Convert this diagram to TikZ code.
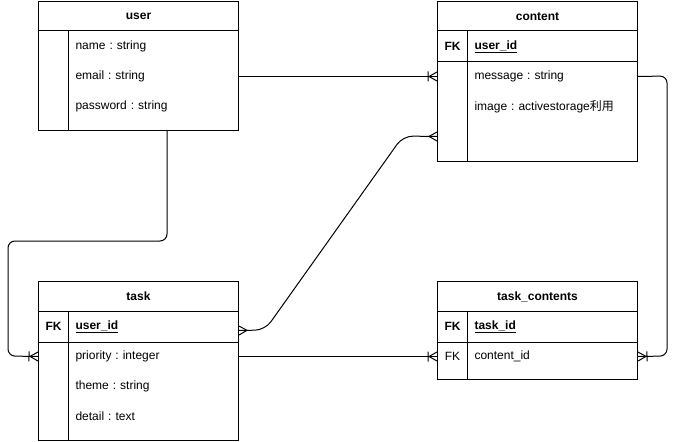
\documentclass[tikz,border=0pt]{standalone}
\usepackage{fontspec}
\setmainfont{Liberation Sans}
\newfontfamily\cjk{Noto Sans CJK JP}
\usetikzlibrary{arrows.meta,calc}
\frenchspacing

% crow's foot (many)
\pgfdeclarearrow{
  name = CrowMany,
  setup code = {
    \pgfarrowssettipend{0pt}
    \pgfarrowssetlineend{0pt}
    \pgfarrowssetbackend{-8pt}
    \pgfarrowshullpoint{0pt}{5pt}
    \pgfarrowshullpoint{0pt}{-5pt}
    \pgfarrowshullpoint{-8pt}{0pt}
  },
  drawing code = {
    \pgfsetdash{}{0pt}
    \pgfpathmoveto{\pgfqpoint{0pt}{4.5pt}}
    \pgfpathlineto{\pgfqpoint{-8pt}{0pt}}
    \pgfpathlineto{\pgfqpoint{0pt}{-4.5pt}}
    \pgfusepathqstroke
  }
}
% crow's foot with a bar (one or many)
\pgfdeclarearrow{
  name = CrowOneMany,
  setup code = {
    \pgfarrowssettipend{0pt}
    \pgfarrowssetlineend{0pt}
    \pgfarrowssetbackend{-9pt}
    \pgfarrowshullpoint{0pt}{5pt}
    \pgfarrowshullpoint{0pt}{-5pt}
    \pgfarrowshullpoint{-9pt}{5pt}
    \pgfarrowshullpoint{-9pt}{-5pt}
  },
  drawing code = {
    \pgfsetdash{}{0pt}
    \pgfpathmoveto{\pgfqpoint{0pt}{4.5pt}}
    \pgfpathlineto{\pgfqpoint{-8pt}{0pt}}
    \pgfpathlineto{\pgfqpoint{0pt}{-4.5pt}}
    \pgfpathmoveto{\pgfqpoint{-9pt}{5pt}}
    \pgfpathlineto{\pgfqpoint{-9pt}{-5pt}}
    \pgfusepathqstroke
  }
}

\tikzset{
  every picture/.style={line width=1pt},
  tbl/.style={draw, anchor=north west, minimum width=200, inner sep=0pt},
  ttl/.style={anchor=north west, minimum width=200, minimum height=30, inner sep=0pt,
    font=\fontsize{12}{14}\selectfont\bfseries},
  rowbox/.style={anchor=north west, minimum height=30, inner ysep=0pt, inner xsep=37pt,
    text width=126pt, align=left, font=\fontsize{12}{14}\selectfont},
  keycell/.style={anchor=north west, minimum width=30, minimum height=30, inner sep=0pt,
    font=\fontsize{12}{14}\selectfont},
  link/.style={line width=1pt, line join=round},
}

\begin{document}
\begin{tikzpicture}[x=1pt, y=-1pt]
\useasboundingbox (0,0) rectangle (676,441);

% ---------- user ----------
\node[tbl, minimum height=129] (user) at (38,1) {};
\node[ttl] (user-title) at (38,1) {user};
\node[rowbox] (user-name) at (38,31) {name : string};
\node[rowbox] (user-email) at (38,61) {email : string};
\node[rowbox] (user-password) at (38,91) {password : string};
\draw (user.west |- user-name.north) -- (user.east |- user-name.north);
\draw (68,31) -- (68,130);

% ---------- content ----------
\node[tbl, minimum height=160] (content) at (437,1) {};
\node[ttl] (content-title) at (437,1) {content};
\node[keycell] (content-key) at (437,31) {\bfseries FK};
\node[rowbox] (content-fk) at (437,31) {\bfseries\underline{user\_id}};
\node[rowbox] (content-message) at (437,61) {message : string};
\node[rowbox] (content-image) at (437,91) {\mbox{image : activestorage{\cjk 利用}}};
\node[rowbox] (content-blank) at (437,121) {};
\draw (content.west |- content-fk.north) -- (content.east |- content-fk.north);
\draw (content.west |- content-fk.south) -- (content.east |- content-fk.south);
\draw (467,31) -- (467,161);

% ---------- task ----------
\node[tbl, minimum height=159] (task) at (38,281) {};
\node[ttl] (task-title) at (38,281) {task};
\node[keycell] (task-key) at (38,311) {\bfseries FK};
\node[rowbox] (task-fk) at (38,311) {\bfseries\underline{user\_id}};
\node[rowbox] (task-priority) at (38,341) {priority : integer};
\node[rowbox] (task-theme) at (38,371) {theme : string};
\node[rowbox] (task-detail) at (38,401) {detail : text};
\draw (task.west |- task-fk.north) -- (task.east |- task-fk.north);
\draw (task.west |- task-fk.south) -- (task.east |- task-fk.south);
\draw (68,311) -- (68,440);

% ---------- task_contents ----------
\node[tbl, minimum height=98] (tc) at (437,281) {};
\node[ttl] (tc-title) at (437,281) {task\_contents};
\node[keycell] (tc-key) at (437,311) {\bfseries FK};
\node[rowbox] (tc-fk) at (437,311) {\bfseries\underline{task\_id}};
\node[keycell] (tc-key2) at (437,341) {FK};
\node[rowbox] (tc-content) at (437,341) {content\_id};
\draw (tc.west |- tc-fk.north) -- (tc.east |- tc-fk.north);
\draw (tc.west |- tc-fk.south) -- (tc.east |- tc-fk.south);
\draw (467,311) -- (467,379);

% ---------- relations ----------
\coordinate (user-out) at (167,130);
\coordinate (task-fk-out) at ($(task-fk.east)+(0,4)$);

\draw[link, -{CrowOneMany}] (user-email.east) -- (content-message.west);
\draw[link, rounded corners=7, -{CrowOneMany}]
  (user-out) -- (167,241) -- (8,241) -- (8,356) -- (task-priority.west);
\draw[link, rounded corners=10, {CrowMany}-{CrowMany}]
  (task-fk-out) -- (265,330) -- (403,136) -- (content-blank.west);
\draw[link, -{CrowOneMany}] (task-priority.east) -- (tc-content.west);
\draw[link, rounded corners=7, -{CrowOneMany}]
  (content-message.east) -- (667,76) -- (667,356) -- (tc-content.east);
\end{tikzpicture}
\end{document}
